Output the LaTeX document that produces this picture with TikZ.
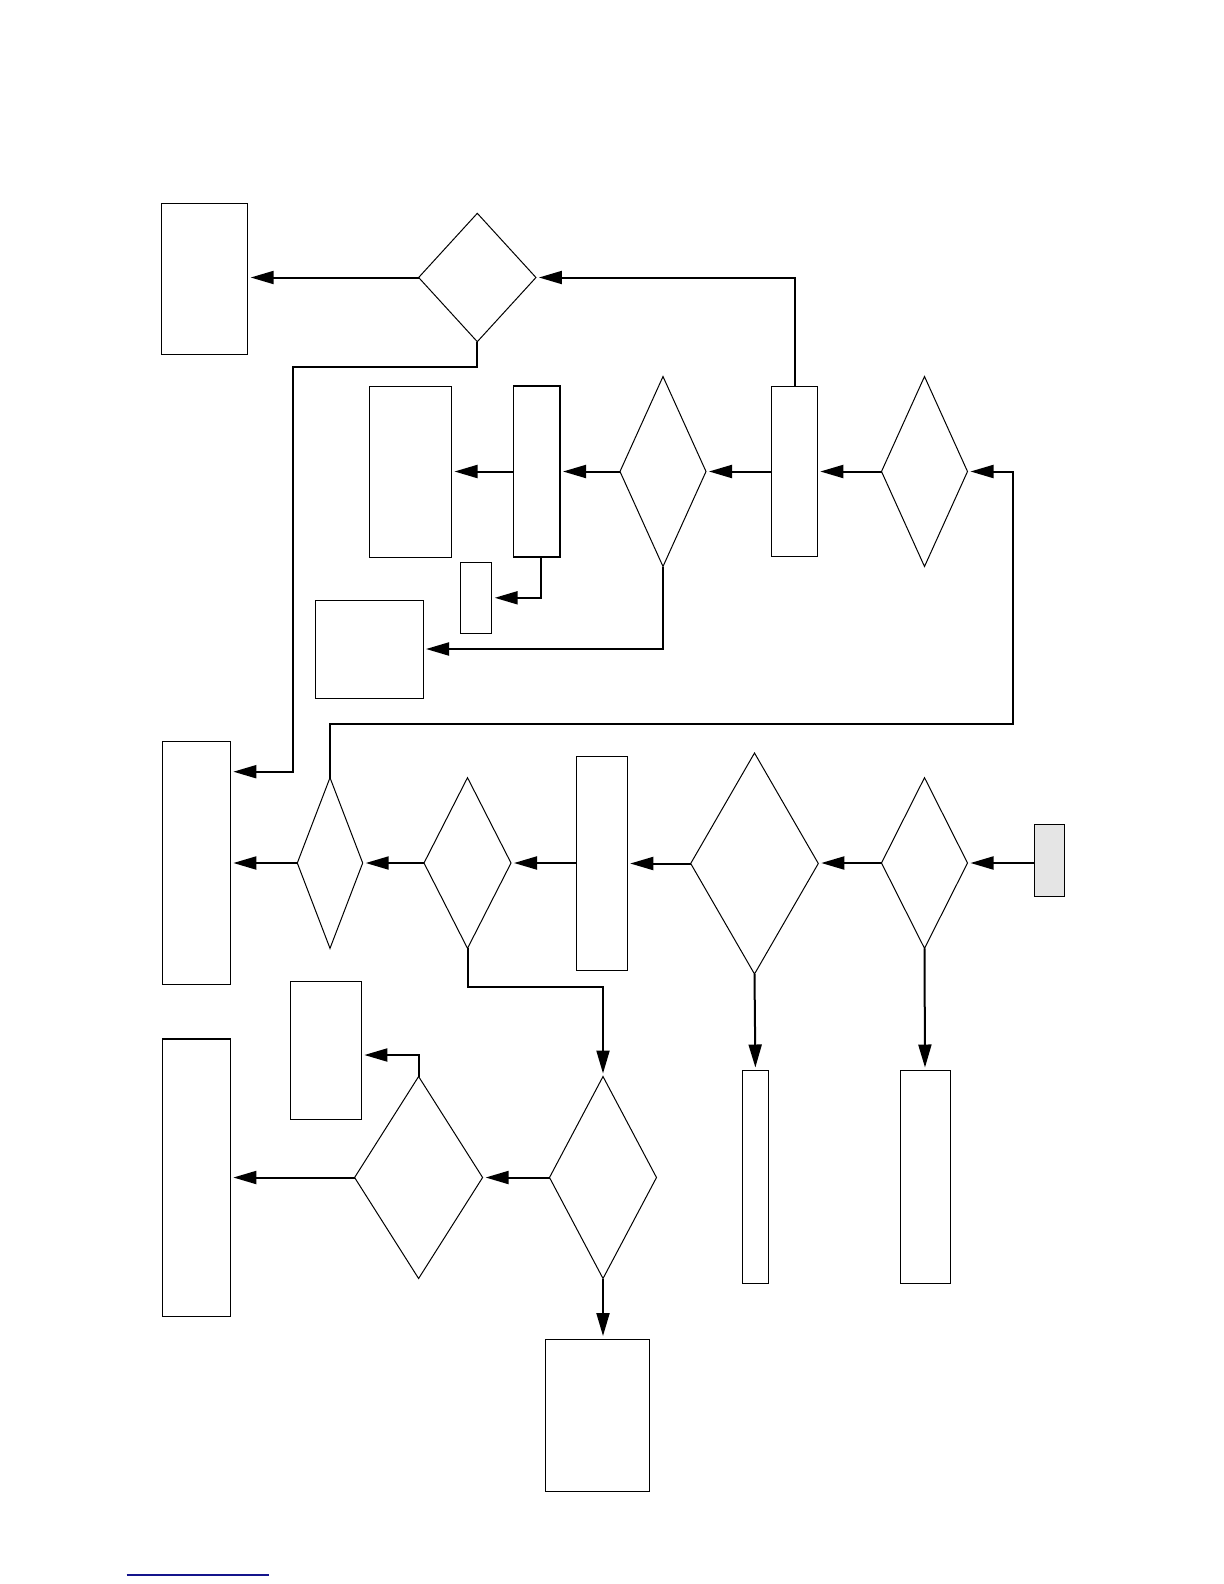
\documentclass[tikz,border=0pt]{standalone}
\usepackage{tikz}
\usetikzlibrary{shapes.geometric, arrows.meta}
\definecolor{linkblue}{rgb}{0.08,0.08,0.55}

\begin{document}
\begin{tikzpicture}[
    x=0.5bp, y=-0.5bp,
    box/.style 2 args={draw, line width=0.5bp, inner sep=0pt, outer sep=0pt,
                minimum width=#1*0.5bp, minimum height=#2*0.5bp},
    dia/.style 2 args={draw, diamond, line width=0.5bp, inner sep=0pt, outer sep=0pt,
                minimum width=#1*0.5bp, minimum height=#2*0.5bp},
    conn/.style={line width=1bp, -{Triangle[length=11.5bp, width=6.5bp]},
                shorten >=1.5bp},
    wire/.style={line width=1bp}
]
\useasboundingbox (0,0) rectangle (1224,1584);

% ---------- top row ----------
\node[box={86.4}{151}] (A) at (204.5,278.8) {};
\node[dia={117.3}{128.4}] (D1) at (477.3,277.5) {};

% ---------- second row ----------
\node[box={82}{171}] (E) at (410.5,471.5) {};
\node[box={46.5}{171}, line width=0.9bp] (F) at (536.8,471.5) {};
\node[dia={86}{190}] (G) at (663,471.5) {};
\node[box={45.6}{170}] (C) at (794.5,471.5) {};
\node[dia={86}{190}] (H) at (924.5,471.5) {};
\node[box={31.4}{71}] (I) at (476,597.8) {};
\node[box={108}{98}] (J) at (369,649) {};

% ---------- third row ----------
\node[box={67.7}{243.4}] (B) at (196.5,863) {};
\node[dia={65.4}{170.7}] (K) at (330,863) {};
\node[dia={87}{170.7}] (L) at (467.5,863) {};
\node[box={50.5}{214}] (M) at (602,863) {};
\node[dia={127.6}{221}] (N) at (754.5,863.5) {};
\node[dia={86}{170.7}] (O) at (924.5,863) {};
\node[box={30.7}{72}, fill=black!10] (P) at (1049.4,860) {};

% ---------- bottom part ----------
\node[box={50}{213}] (Q) at (925,1177) {};
\node[box={26.2}{213}] (R) at (755.4,1177) {};
\node[dia={107}{202}] (S) at (603,1177.5) {};
\node[box={104}{152.6}] (T) at (597.4,1415.3) {};
\node[dia={128}{202}] (U) at (418.6,1177.5) {};
\node[box={67.7}{278}] (V) at (196.5,1177.5) {};
\node[box={70.7}{138}] (W) at (326,1050) {};
\draw[wire] (V.north west) -- (V.north east);

% ---------- elbow points ----------
\coordinate (dLeft) at (292.7,366.7);
\coordinate (bTop) at (0,771.7);
\coordinate (fOut) at (540.7,557);
\coordinate (loopR) at (1013.3,724);
\coordinate (lElb) at (603,986.7);
\coordinate (wElb) at (0,1055);

% ---------- connectors, top ----------
\draw[conn] (D1.west) -- (D1.west -| A.east);
\draw[conn] (C.north) |- (D1.east);
\draw[conn] (D1.south) |- (dLeft) |- (B.east |- bTop);

% ---------- connectors, second row ----------
\draw[conn] (H.west) -- (C.east);
\draw[conn] (C.west) -- (G.east);
\draw[conn] (G.west) -- (F.east);
\draw[conn] (F.west) -- (E.east);
\draw[conn] (fOut) |- (I.east);
\draw[conn] (G.south) |- (J.east);

% ---------- connectors, third row ----------
\draw[conn] (P.west |- O.east) -- (O.east);
\draw[conn] (O.west) -- (O.west -| N.east);
\draw[conn] (N.west) -- (N.west -| M.east);
\draw[conn] (M.west) -- (L.east);
\draw[conn] (L.west) -- (K.east);
\draw[conn] (K.west) -- (B.east);
\draw[conn] (K.north) |- (loopR) |- (H.east);

% ---------- connectors, bottom ----------
\draw[conn] (O.south) -- (Q.north);
\draw[conn] (N.south) -- (R.north);
\draw[conn] (L.south) |- (lElb) -- (S.north);
\draw[conn] (S.south) -- (S.south |- T.north);
\draw[conn] (S.west) -- (U.east);
\draw[conn] (U.west) -- (V.east);
\draw[conn] (U.north) |- (W.east |- wElb);

% ---------- link line ----------
\draw[linkblue, line width=0.7bp] (126.7,1575) -- (269,1575);

\end{tikzpicture}
\end{document}
